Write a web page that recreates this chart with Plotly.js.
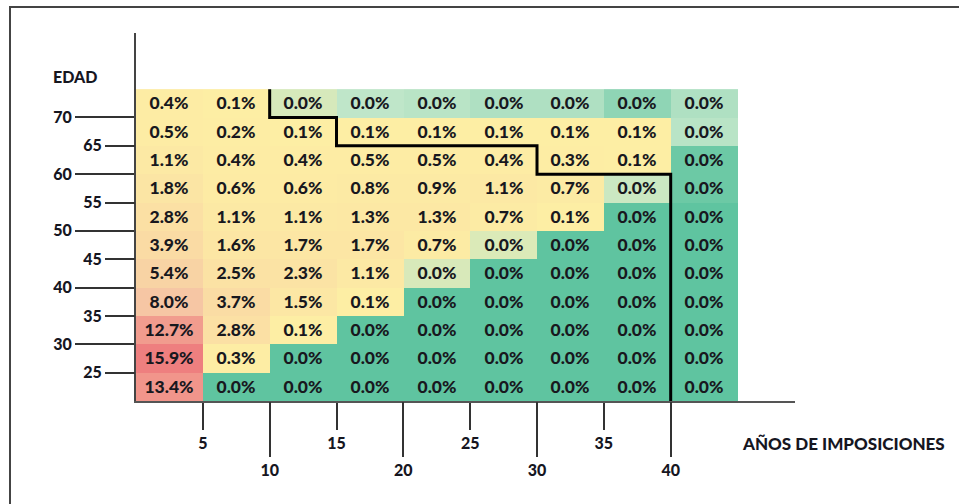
<!DOCTYPE html>
<html><head><meta charset="utf-8">
<script src="https://cdn.plot.ly/plotly-3.0.1.min.js"></script>
<style>html,body{margin:0;padding:0;background:#fff;}#chart{width:959px;height:504px;}</style>
</head><body><div id="chart"></div>
<script>
// Bin edges: years of contributions (x) and age (y)
const yearEdges = [0,5,10,15,20,25,30,35,40,45];
const ageEdges = [20,25,30,35,40,45,50,55,60,65,70,75];
// Share of people (%) per cell; rows listed from top (age 70-75) to bottom (age 20-25).
// Cells shown as 0.0% carry small estimated underlying values read from their shade.
const age70 = [0.4, 0.1, 0.045, 0.03, 0.028, 0.025, 0.025, 0.015, 0.025];
const age65 = [0.5, 0.2, 0.1, 0.1, 0.1, 0.1, 0.1, 0.1, 0.028];
const age60 = [1.1, 0.4, 0.4, 0.5, 0.5, 0.4, 0.3, 0.1, 0.004];
const age55 = [1.8, 0.6, 0.6, 0.8, 0.9, 1.1, 0.7, 0.038, 0.004];
const age50 = [2.8, 1.1, 1.1, 1.3, 1.3, 0.7, 0.1, 0.0, 0.0];
const age45 = [3.9, 1.6, 1.7, 1.7, 0.7, 0.048, 0.0, 0.0, 0.0];
const age40 = [5.4, 2.5, 2.3, 1.1, 0.046, 0.0, 0.0, 0.0, 0.0];
const age35 = [8.0, 3.7, 1.5, 0.1, 0.0, 0.0, 0.0, 0.0, 0.0];
const age30 = [12.7, 2.8, 0.1, 0.0, 0.0, 0.0, 0.0, 0.0, 0.0];
const age25 = [15.9, 0.3, 0.0, 0.0, 0.0, 0.0, 0.0, 0.0, 0.0];
const age20 = [13.4, 0.0, 0.0, 0.0, 0.0, 0.0, 0.0, 0.0, 0.0];
const rowsTopDown = [age70, age65, age60, age55, age50, age45, age40, age35, age30, age25, age20];

// Tick values (alternating short/long ticks)
const xTicksShort = [5, 15, 25, 35];
const xTicksLong = [10, 20, 30, 40];
const yTicksLong = [70, 60, 50, 40, 30];
const yTicksShort = [65, 55, 45, 35, 25];

// Stepped boundary line (years, age)
const stepYears = [10, 10, 15, 15, 30, 30, 40, 40];
const stepAges = [75, 70, 70, 65, 65, 60, 60, 20];

const zRows = rowsTopDown.slice().reverse();
const zMax = 15.9;
const fam = 'Lato, "Open Sans", sans-serif';
const fnt = {family: fam, size: 16, weight: 900, color: '#16161f'};

const heat = {
  type: 'heatmap', x: yearEdges, y: ageEdges, z: zRows,
  zmin: 0, zmax: zMax, showscale: false, hoverinfo: 'skip',
  colorscale: [
    [0, '#5fc4a0'],
    [0.03 / zMax, '#bfe6c9'],
    [0.07 / zMax, '#fdeea4'],
    [0.5, '#f6c6a4'],
    [1, '#ee7f7f']
  ],
  texttemplate: '%{z:.1f}%',
  textfont: {family: fam, size: 17.5, weight: 900, color: '#18181e'}
};
const step = {
  type: 'scatter', mode: 'lines', x: stepYears, y: stepAges,
  line: {color: '#000', width: 3}, hoverinfo: 'skip', showlegend: false
};
const dummy = {type: 'scatter', mode: 'markers', x: [], y: [], xaxis: 'x2', yaxis: 'y2', showlegend: false, hoverinfo: 'skip'};

const xr = [0, 49.3], yr = [20, 84.9];
const layout = {
  width: 959, height: 504,
  margin: {l: 136, r: 164, t: 33, b: 103},
  paper_bgcolor: '#fff', plot_bgcolor: '#fff',
  showlegend: false,
  xaxis: {range: xr, anchor: 'y', tickmode: 'array', tickvals: xTicksShort, ticktext: xTicksShort.map(String),
    ticks: 'outside', ticklen: 27, tickwidth: 2, tickcolor: '#333',
    showline: true, linecolor: '#555', linewidth: 1.5, showgrid: false, zeroline: false, tickfont: fnt, fixedrange: true},
  xaxis2: {range: xr, overlaying: 'x', anchor: 'y', side: 'bottom', tickmode: 'array', tickvals: xTicksLong, ticktext: xTicksLong.map(String),
    ticks: 'outside', ticklen: 55, tickwidth: 2, tickcolor: '#333',
    showline: false, showgrid: false, zeroline: false, tickfont: fnt, fixedrange: true},
  yaxis: {range: yr, anchor: 'x', tickmode: 'array', tickvals: yTicksLong, ticktext: yTicksLong.map(String),
    ticks: 'outside', ticklen: 59, tickwidth: 2, tickcolor: '#333',
    showline: true, linecolor: '#444', linewidth: 2, showgrid: false, zeroline: false, tickfont: fnt, fixedrange: true},
  yaxis2: {range: yr, overlaying: 'y', anchor: 'x', side: 'left', tickmode: 'array', tickvals: yTicksShort, ticktext: yTicksShort.map(String),
    ticks: 'outside', ticklen: 30, tickwidth: 2, tickcolor: '#333',
    showline: false, showgrid: false, zeroline: false, tickfont: fnt, fixedrange: true},
  annotations: [
    {xref: 'paper', yref: 'paper', x: (75 - 136) / 659, y: (401 - 76) / 368, text: 'EDAD', showarrow: false,
      xanchor: 'center', yanchor: 'middle', font: fnt},
    {xref: 'paper', yref: 'paper', x: (740 - 136) / 659, y: (401 - 443) / 368, text: 'AÑOS DE IMPOSICIONES', showarrow: false,
      xanchor: 'left', yanchor: 'middle', font: {family: fam, size: 17, weight: 900, color: '#16161f'}}
  ],
  shapes: [
    {type: 'rect', xref: 'paper', yref: 'paper', x0: (10 - 136) / 659, x1: 1.5, y0: -0.6, y1: (401 - 7) / 368,
      line: {color: '#444', width: 2}, fillcolor: 'rgba(0,0,0,0)', layer: 'below'}
  ]
};
Plotly.newPlot('chart', [heat, step, dummy], layout, {staticPlot: true, displayModeBar: false});
</script>
</body></html>
